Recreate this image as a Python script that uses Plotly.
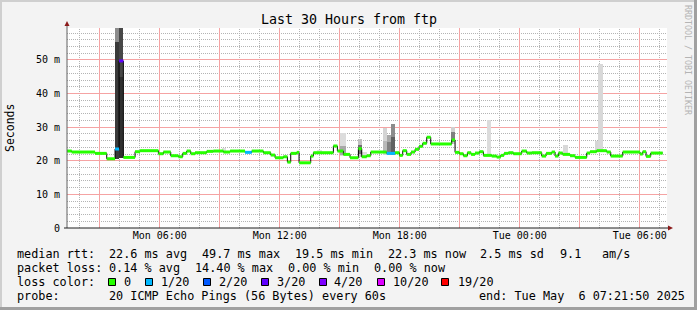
import math
import plotly.graph_objects as go
import pandas as pd

# ---------------- data ----------------
x_start = "2025-05-05 01:21:50"
x_end = "2025-05-06 07:21:50"

med_time = [
    "2025-05-05 01:22", "2025-05-05 01:36", "2025-05-05 02:46", "2025-05-05 03:21", "2025-05-05 03:46",
    "2025-05-05 03:58", "2025-05-05 04:11", "2025-05-05 04:46", "2025-05-05 05:01", "2025-05-05 05:56",
    "2025-05-05 06:11", "2025-05-05 06:33", "2025-05-05 06:56", "2025-05-05 07:09", "2025-05-05 07:21",
    "2025-05-05 07:33", "2025-05-05 07:46", "2025-05-05 08:21", "2025-05-05 08:41", "2025-05-05 09:11",
    "2025-05-05 09:31", "2025-05-05 10:16", "2025-05-05 10:36", "2025-05-05 11:11", "2025-05-05 11:33",
    "2025-05-05 11:46", "2025-05-05 12:11", "2025-05-05 12:23", "2025-05-05 12:33", "2025-05-05 12:51",
    "2025-05-05 12:58", "2025-05-05 13:33", "2025-05-05 13:41", "2025-05-05 14:41", "2025-05-05 14:53",
    "2025-05-05 15:11", "2025-05-05 15:31", "2025-05-05 15:56", "2025-05-05 16:06", "2025-05-05 16:21",
    "2025-05-05 16:33", "2025-05-05 17:21", "2025-05-05 17:46", "2025-05-05 17:59", "2025-05-05 18:09",
    "2025-05-05 18:21", "2025-05-05 18:34", "2025-05-05 18:46", "2025-05-05 18:58", "2025-05-05 19:09",
    "2025-05-05 19:21", "2025-05-05 19:33", "2025-05-05 20:36", "2025-05-05 20:46", "2025-05-05 20:59",
    "2025-05-05 21:11", "2025-05-05 21:23", "2025-05-05 21:34", "2025-05-05 21:46", "2025-05-05 21:59",
    "2025-05-05 22:11", "2025-05-05 22:36", "2025-05-05 22:51", "2025-05-05 23:03", "2025-05-05 23:13",
    "2025-05-05 23:26", "2025-05-05 23:41", "2025-05-06 00:06", "2025-05-06 00:21", "2025-05-06 00:36",
    "2025-05-06 01:06", "2025-05-06 01:19", "2025-05-06 01:36", "2025-05-06 01:46", "2025-05-06 01:56",
    "2025-05-06 02:09", "2025-05-06 02:31", "2025-05-06 02:46", "2025-05-06 03:21", "2025-05-06 03:31",
    "2025-05-06 03:51", "2025-05-06 04:21", "2025-05-06 04:33", "2025-05-06 05:09", "2025-05-06 06:01",
    "2025-05-06 06:09", "2025-05-06 06:19", "2025-05-06 06:33",
]
med_last = "2025-05-06 07:09"

med_ms = [
    22.9, 22.6, 22.2, 20.6, 23.5, 49.7, 21.0, 22.7, 23.0, 22.1,
    22.6, 21.5, 21.2, 22.2, 22.9, 22.1, 22.4, 22.8, 22.9, 22.6,
    22.9, 22.5, 22.9, 22.4, 21.7, 20.9, 21.2, 19.6, 22.2, 22.5,
    19.4, 21.4, 22.4, 24.4, 22.9, 21.9, 20.9, 23.6, 21.2, 21.5,
    22.6, 22.2, 22.4, 21.6, 23.0, 21.9, 22.6, 23.4, 24.3, 25.2,
    27.0, 25.0, 26.2, 22.5, 22.1, 21.5, 22.4, 21.9, 22.3, 22.7,
    21.6, 21.4, 21.1, 21.6, 22.2, 22.4, 22.1, 22.9, 22.3, 22.4,
    21.4, 22.2, 22.6, 21.4, 22.3, 21.9, 21.5, 21.0, 22.3, 22.7,
    23.0, 22.6, 21.4, 22.6, 22.0, 22.7, 21.3, 22.3,
]

med_loss = [
    0, 0, 0, 0, 1, 3, 0, 0, 0, 0,
    0, 0, 0, 0, 0, 0, 0, 0, 0, 0,
    0, 1, 0, 0, 0, 0, 0, 0, 0, 0,
    0, 0, 0, 0, 0, 0, 0, 0, 0, 0,
    0, 1, 0, 0, 0, 0, 0, 0, 0, 0,
    0, 0, 0, 0, 0, 0, 0, 0, 0, 0,
    0, 0, 0, 0, 0, 0, 0, 0, 0, 0,
    0, 0, 0, 0, 0, 0, 0, 0, 0, 0,
    0, 0, 0, 0, 0, 0, 0, 0,
]

smoke_t0 = ["2025-05-05 03:46", "2025-05-05 03:46", "2025-05-05 03:58", "2025-05-05 03:58",
            "2025-05-05 09:08", "2025-05-05 13:52", "2025-05-05 15:00", "2025-05-05 15:00",
            "2025-05-05 16:01", "2025-05-05 15:54", "2025-05-05 15:54",
            "2025-05-05 17:11", "2025-05-05 17:11", "2025-05-05 17:21", "2025-05-05 17:21",
            "2025-05-05 17:33", "2025-05-05 17:33", "2025-05-05 20:35", "2025-05-05 20:35",
            "2025-05-05 22:21", "2025-05-06 02:09", "2025-05-06 03:45", "2025-05-06 03:55"]
smoke_t1 = ["2025-05-05 03:58", "2025-05-05 03:58", "2025-05-05 04:11", "2025-05-05 04:11",
            "2025-05-05 09:20", "2025-05-05 14:08", "2025-05-05 15:20", "2025-05-05 15:20",
            "2025-05-05 16:21", "2025-05-05 16:08", "2025-05-05 16:08",
            "2025-05-05 17:21", "2025-05-05 17:21", "2025-05-05 17:33", "2025-05-05 17:33",
            "2025-05-05 17:46", "2025-05-05 17:46", "2025-05-05 20:46", "2025-05-05 20:46",
            "2025-05-05 22:33", "2025-05-06 02:26", "2025-05-06 03:56", "2025-05-06 04:10"]
smoke_lo = [20.5, 55.2, 20.8, 45.0, 22.9, 22.4, 21.3, 21.8, 21.0, 21.0, 22.0,
            21.8, 22.3, 21.8, 22.2, 21.8, 22.2, 25.0, 25.6, 21.7, 21.8, 22.5, 22.7]
smoke_hi = [55.2, 60.0, 45.0, 60.0, 23.9, 23.3, 28.2, 24.5, 22.5, 26.5, 24.8,
            29.9, 26.0, 27.7, 25.5, 31.0, 27.0, 30.0, 28.5, 32.1, 24.7, 25.9, 48.8]
smoke_shade = ["#3a3a3a", "#8c8c8c", "#303030", "#484848", "#dddddd", "#e0e0e0", "#dcdcdc", "#a8a8a8",
               "#dddddd", "#c0c0c0", "#707070", "#d4d4d4", "#b8b8b8", "#a8a8a8", "#808080",
               "#8c8c8c", "#606060", "#d0d0d0", "#808080", "#dcdcdc", "#d8d8d8", "#d6d6d6", "#d8d8d8"]

loss_levels = [0, 1, 2, 3, 4, 10, 19]
loss_labels = ["0", "1/20", "2/20", "3/20", "4/20", "10/20", "19/20"]
loss_colors = ["#26ff00", "#00b8ff", "#0059ff", "#5e00ff", "#7e00ff", "#dd00ff", "#ff0000"]

y_tickvals = [0, 10, 20, 30, 40, 50]
y_ticktext = ["0", "10 m", "20 m", "30 m", "40 m", "50 m"]
y_minorvals = [2, 4, 6, 8, 12, 14, 16, 18, 22, 24, 26, 28, 32, 34, 36, 38, 42, 44, 46, 48, 52, 54, 56, 58]
x_tickvals = ["2025-05-05 03:00", "2025-05-05 06:00", "2025-05-05 09:00", "2025-05-05 12:00",
              "2025-05-05 15:00", "2025-05-05 18:00", "2025-05-05 21:00", "2025-05-06 00:00",
              "2025-05-06 03:00", "2025-05-06 06:00"]
x_ticktext = ["", "Mon 06:00", "", "Mon 12:00", "", "Mon 18:00", "", "Tue 00:00", "", "Tue 06:00"]
x_minorvals = ["2025-05-05 02:00", "2025-05-05 04:00", "2025-05-05 05:00", "2025-05-05 07:00",
               "2025-05-05 08:00", "2025-05-05 10:00", "2025-05-05 11:00", "2025-05-05 13:00",
               "2025-05-05 14:00", "2025-05-05 16:00", "2025-05-05 17:00", "2025-05-05 19:00",
               "2025-05-05 20:00", "2025-05-05 22:00", "2025-05-05 23:00", "2025-05-06 01:00",
               "2025-05-06 02:00", "2025-05-06 04:00", "2025-05-06 05:00", "2025-05-06 07:00"]

legend_rows = [
    [("median rtt:", 16), ("22.6 ms avg", 108), ("49.7 ms max", 201), ("19.5 ms min", 294),
     ("22.3 ms now", 387), ("2.5 ms sd", 479), ("9.1", 558.5), ("am/s", 601)],
    [("packet loss:", 16), ("0.14 % avg", 108), ("14.40 % max", 194), ("0.00 % min", 287),
     ("0.00 % now", 373)],
    [("loss color:", 16)],
    [("probe:", 16), ("20 ICMP Echo Pings (56 Bytes) every 60s", 108),
     ("end: Tue May  6 07:21:50 2025", 478.3)],
]

# ---------------- geometry helpers ----------------
W, H = 697, 310
L, R, T, B = 67, 30, 28, 82
PW, PH = W - L - R, H - T - B
Y_MAX = 59.5
T0 = pd.Timestamp(x_start)
T1 = pd.Timestamp(x_end)


def px2x(px):
    return (px - L) / PW


def px2y(py):
    return (H - B - py) / PH


def val_to_py(v):
    return math.floor(H - B - v * PH / Y_MAX) + 0.5


def time_to_px(t):
    frac = (pd.Timestamp(t) - T0) / (T1 - T0)
    return math.floor(L + frac * PW) + 0.5


MONO = "DejaVu Sans Mono"
LEG_SIZE = 11.8

fig = go.Figure()

# smoke
t0 = pd.to_datetime(smoke_t0)
t1 = pd.to_datetime(smoke_t1)
mid = t0 + (t1 - t0) / 2
widths = [(b - a).total_seconds() * 1000 for a, b in zip(t0, t1)]
fig.add_trace(go.Bar(
    x=mid, y=[h - l for h, l in zip(smoke_hi, smoke_lo)], base=smoke_lo, width=widths,
    marker=dict(color=smoke_shade, line=dict(width=0)), hoverinfo="skip", showlegend=False,
))

# median black step line
times = pd.to_datetime(med_time + [med_last])
fig.add_trace(go.Scatter(
    x=times, y=med_ms + [med_ms[-1]], mode="lines", line=dict(color="#000000", width=1, shape="hv"),
    hoverinfo="skip", showlegend=False,
))

# coloured median segments by loss
for lvl, col in zip(loss_levels, loss_colors):
    xs, ys = [], []
    for i, v in enumerate(med_ms):
        if med_loss[i] == lvl:
            xs += [times[i], times[i + 1], None]
            ys += [v, v, None]
    if xs:
        fig.add_trace(go.Scatter(x=xs, y=ys, mode="lines", line=dict(color=col, width=3),
                                 hoverinfo="skip", showlegend=False))

shapes = []
annotations = []

major_grid = "#f5a3a3"
minor_grid = "#b4b4b4"
DOT = "1px,1px"

for v in y_minorvals:
    py = val_to_py(v)
    shapes.append(dict(type="line", xref="paper", yref="paper", x0=0, x1=1,
                       y0=px2y(py), y1=px2y(py), layer="below",
                       line=dict(color=minor_grid, width=1, dash=DOT)))
for t in x_minorvals:
    px = time_to_px(t)
    shapes.append(dict(type="line", xref="paper", yref="paper", x0=px2x(px), x1=px2x(px),
                       y0=0, y1=1, layer="below",
                       line=dict(color=minor_grid, width=1, dash=DOT)))
for v in y_tickvals[1:]:
    py = val_to_py(v)
    shapes.append(dict(type="line", xref="paper", yref="paper", x0=0, x1=1,
                       y0=px2y(py), y1=px2y(py), layer="below",
                       line=dict(color=major_grid, width=1, dash="solid")))
for t in x_tickvals:
    px = time_to_px(t)
    shapes.append(dict(type="line", xref="paper", yref="paper", x0=px2x(px), x1=px2x(px),
                       y0=0, y1=1, layer="below",
                       line=dict(color=major_grid, width=1, dash="solid")))

# axis lines and arrows
shapes.append(dict(type="line", xref="paper", yref="paper", x0=px2x(67), x1=px2x(67),
                   y0=px2y(228), y1=px2y(25), line=dict(color="#606060", width=1)))
shapes.append(dict(type="line", xref="paper", yref="paper", x0=px2x(64), x1=px2x(669),
                   y0=px2y(228), y1=px2y(228), line=dict(color="#202020", width=1)))
shapes.append(dict(type="path", xref="paper", yref="paper",
                   path=f"M {px2x(64.5)} {px2y(26)} L {px2x(69.5)} {px2y(26)} L {px2x(67)} {px2y(21)} Z",
                   fillcolor="#8b1a1a", line=dict(width=0)))
shapes.append(dict(type="path", xref="paper", yref="paper",
                   path=f"M {px2x(668)} {px2y(225.5)} L {px2x(668)} {px2y(230.5)} L {px2x(673)} {px2y(228)} Z",
                   fillcolor="#8b1a1a", line=dict(width=0)))

# frame
shapes.append(dict(type="rect", xref="paper", yref="paper", x0=px2x(0), x1=px2x(697),
                   y0=px2y(0), y1=px2y(2), fillcolor="#cfcfcf", line=dict(width=0), layer="below"))
shapes.append(dict(type="rect", xref="paper", yref="paper", x0=px2x(0), x1=px2x(2),
                   y0=px2y(0), y1=px2y(310), fillcolor="#cfcfcf", line=dict(width=0), layer="below"))
shapes.append(dict(type="rect", xref="paper", yref="paper", x0=px2x(0), x1=px2x(697),
                   y0=px2y(307), y1=px2y(310), fillcolor="#a0a0a0", line=dict(width=0), layer="below"))
shapes.append(dict(type="rect", xref="paper", yref="paper", x0=px2x(694), x1=px2x(697),
                   y0=px2y(0), y1=px2y(310), fillcolor="#a0a0a0", line=dict(width=0), layer="below"))

# legend text
row_y = [254.3, 268.3, 282.0, 296.0]
for ry, row in zip(row_y, legend_rows):
    for txt, px in row:
        annotations.append(dict(text=txt.replace(" ", "&nbsp;"), x=px2x(px - 1), y=px2y(ry),
                                xref="paper", yref="paper", xanchor="left", yanchor="middle",
                                showarrow=False, font=dict(family=MONO, size=LEG_SIZE, color="#000000")))

# loss colour swatches
box_x = [108.5, 145.5, 203.5, 261.5, 319.5, 377.5, 441.5]
lab_x = [123.3, 160.0, 218.3, 276.0, 333.3, 391.7, 456.7]
for bx, lx, col, lab in zip(box_x, lab_x, loss_colors, loss_labels):
    shapes.append(dict(type="rect", xref="paper", yref="paper", x0=px2x(bx), x1=px2x(bx + 7),
                       y0=px2y(278.5), y1=px2y(285.5), fillcolor=col, line=dict(color="#000000", width=1)))
    annotations.append(dict(text=lab, x=px2x(lx - 1), y=px2y(282.0), xref="paper", yref="paper",
                            xanchor="left", yanchor="middle", showarrow=False,
                            font=dict(family=MONO, size=LEG_SIZE, color="#000000")))

# title, y label, watermark
annotations.append(dict(text="Last 30 Hours from ftp", x=px2x(348.5), y=px2y(19), xref="paper", yref="paper",
                        xanchor="center", yanchor="middle", showarrow=False,
                        font=dict(family=MONO, size=13.3, color="#000000")))
annotations.append(dict(text="Seconds", x=px2x(10), y=px2y(128), xref="paper", yref="paper",
                        xanchor="center", yanchor="middle", showarrow=False, textangle=-90,
                        font=dict(family=MONO, size=11.5, color="#000000")))
annotations.append(dict(text="RRDTOOL / TOBI OETIKER", x=px2x(688), y=px2y(60), xref="paper", yref="paper",
                        xanchor="center", yanchor="middle", showarrow=False, textangle=90,
                        font=dict(family=MONO, size=8.3, color="#b4b4b4")))

fig.update_layout(
    width=W, height=H, autosize=False,
    margin=dict(l=L, r=R, t=T, b=B, pad=0),
    paper_bgcolor="#f3f3f3", plot_bgcolor="#ffffff",
    barmode="overlay", bargap=0,
    showlegend=False,
    shapes=shapes, annotations=annotations,
    xaxis=dict(
        type="date", range=[x_start, x_end], fixedrange=True,
        tickmode="array", tickvals=x_tickvals, ticktext=x_ticktext,
        showgrid=False, showline=False, zeroline=False, ticks="",
        tickfont=dict(family=MONO, size=10, color="#000000"),
    ),
    yaxis=dict(
        range=[0, Y_MAX], fixedrange=True,
        tickmode="array", tickvals=y_tickvals, ticktext=y_ticktext,
        showgrid=False, showline=False, zeroline=False, ticks="", ticklabelstandoff=6,
        tickfont=dict(family=MONO, size=10, color="#000000"),
    ),
)

fig.write_html("out.html")
